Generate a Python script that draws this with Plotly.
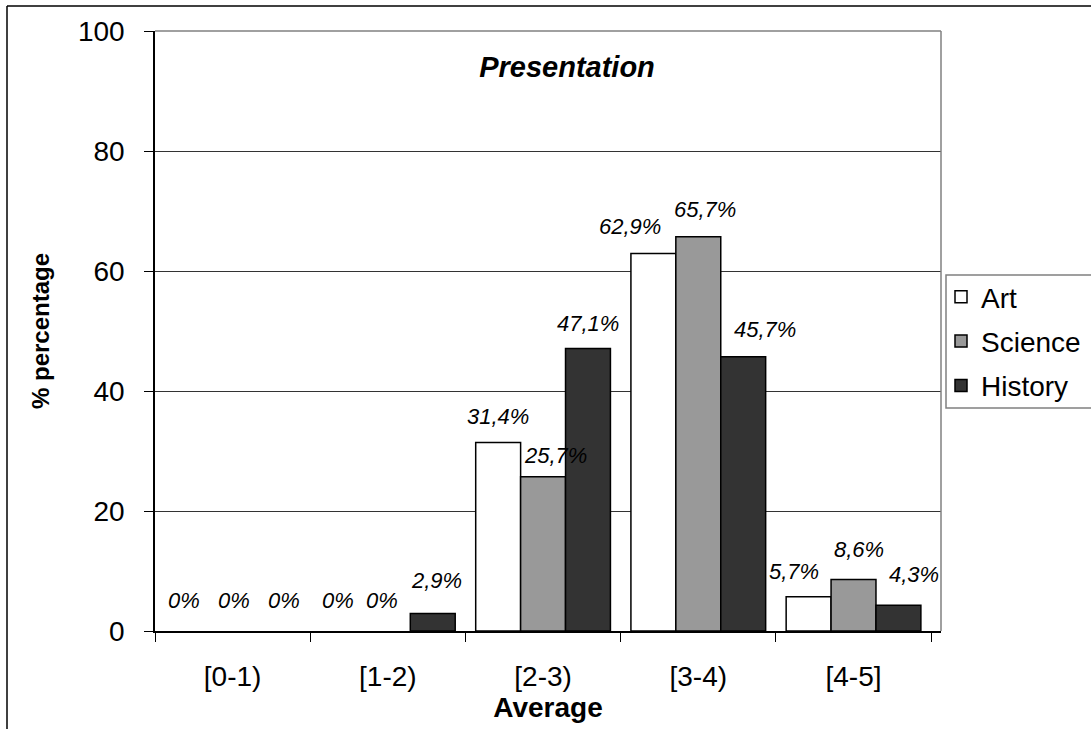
import plotly.graph_objects as go

# Score bands and share of students (%) per subject
categories = ["[0-1)", "[1-2)", "[2-3)", "[3-4)", "[4-5]"]
series_names = ["Art", "Science", "History"]
art = [0, 0, 31.4, 62.9, 5.7]
science = [0, 0, 25.7, 65.7, 8.6]
history = [0, 2.9, 47.1, 45.7, 4.3]
y_ticks = [0, 20, 40, 60, 80, 100]

colors = ["#FFFFFF", "#999999", "#333333"]
values = [art, science, history]

# Per-label nudges (px) of the italic value labels: [series][category]
label_dx = [[-3, -4, 0, -23, -14], [1, -6, 12, 7, 5], [6, 3, -1, 21, 15]]
label_dy = [[31, 31, 26, 27, 25], [31, 31, 21, 27, 30], [31, 33, 25, 27, 31]]

# Plot area geometry in pixels
W, H = 1091, 729
L, R, T, B = 155, 941, 31, 631
BARGAP = 0.132
cat_w = (R - L) / len(categories)
bar_w = cat_w * (1 - BARGAP) / len(series_names)


def px_x(p):
    return (p - L) / (R - L)


def px_y(p):
    return (B - p) / (B - T)


FONT = "Liberation Sans, Arial, sans-serif"

fig = go.Figure()
for i, (name, vals) in enumerate(zip(series_names, values)):
    fig.add_trace(go.Bar(
        name=name, x=categories,
        # zero-height bars are left undrawn so their outline does not thicken the axis
        y=[v if v > 0 else None for v in vals],
        marker=dict(color=colors[i], line=dict(color="#000000", width=1.5)),
        legendgroup=name,
    ))


def fmt(v):
    s = ("%.1f" % v).replace(".", ",")
    if s.endswith(",0"):
        s = s[:-2]
    return s + "%"


annotations = []
for i, vals in enumerate(values):
    for j, v in enumerate(vals):
        annotations.append(dict(
            x=categories[j], y=v, xref="x", yref="y",
            text=fmt(v), showarrow=False,
            xshift=(i - 1) * bar_w + label_dx[i][j], yshift=label_dy[i][j],
            font=dict(family=FONT, size=22, color="#000000", style="italic"),
            xanchor="center", yanchor="middle",
        ))

shapes = [
    # outer frame (left and top edges)
    dict(type="line", xref="paper", yref="paper", x0=px_x(7), x1=px_x(7),
         y0=px_y(760), y1=px_y(6), line=dict(color="#000000", width=1.5)),
    dict(type="line", xref="paper", yref="paper", x0=px_x(7), x1=px_x(1120),
         y0=px_y(6), y1=px_y(6), line=dict(color="#000000", width=1.5)),
    # grey top/right border of the plot area
    dict(type="line", xref="paper", yref="paper", x0=0, x1=1, y0=1, y1=1,
         line=dict(color="#808080", width=1.5)),
    dict(type="line", xref="paper", yref="paper", x0=1, x1=1, y0=0, y1=1,
         line=dict(color="#808080", width=1.5)),
    # legend box
    dict(type="rect", xref="paper", yref="paper", x0=px_x(946), x1=px_x(1120),
         y0=px_y(408), y1=px_y(275), line=dict(color="#808080", width=1.5)),
]

fig.update_layout(
    width=W, height=H,
    margin=dict(l=L, r=W - R, t=T, b=H - B, pad=0, autoexpand=False),
    paper_bgcolor="#FFFFFF", plot_bgcolor="#FFFFFF",
    barmode="group", bargap=BARGAP, bargroupgap=0,
    font=dict(family=FONT, size=28, color="#000000"),
    title=dict(text="<b><i>Presentation</i></b>", x=px_x(567), xref="paper",
               xanchor="center", y=1 - 67 / H, yanchor="middle",
               font=dict(family=FONT, size=29)),
    xaxis=dict(
        type="category", categoryorder="array", categoryarray=categories,
        showgrid=False, showline=True, linecolor="#000000",
        linewidth=1.5, ticks="outside", tickson="boundaries", ticklen=9,
        tickcolor="#000000", tickfont=dict(size=28), ticklabelstandoff=20,
        title=dict(text="<b>Average</b>", font=dict(size=28), standoff=4),
    ),
    yaxis=dict(
        range=[0, 100], tickvals=y_ticks, showgrid=True, gridcolor="#333333",
        gridwidth=1, showline=True, linecolor="#000000", linewidth=1.5,
        ticks="outside", ticklen=9, tickcolor="#000000",
        tickfont=dict(size=28), ticklabelstandoff=14, zeroline=False,
        title=dict(text="<b>% percentage</b>", font=dict(size=24), standoff=22),
    ),
    legend=dict(
        x=px_x(941), xanchor="left", y=px_y(272), yanchor="top",
        bgcolor="rgba(0,0,0,0)", borderwidth=0, font=dict(size=28),
        tracegroupgap=5, traceorder="grouped",
    ),
    annotations=annotations,
    shapes=shapes,
    showlegend=True,
)

fig.write_html("out.html")
